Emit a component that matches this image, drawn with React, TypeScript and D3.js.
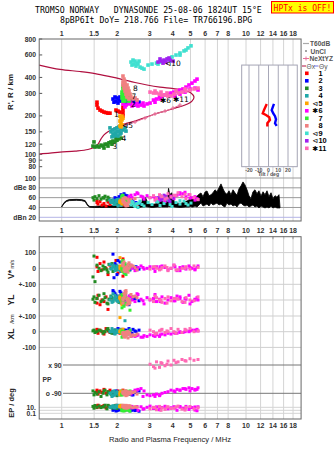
import React from 'react';
import * as d3 from 'd3';

// ---------------- data ----------------
const freqTicks = [1, 1.5, 2, 3, 4, 5, 6, 7, 8, 10, 12, 14, 16, 18];
const freqTickLabels = ['1', '1.5', '2', '3', '4', '5', '6', '7', '8', '10', '12', '14', '16', '18'];
const heightTicks = [800, 600, 400, 300, 200, 150, 120, 100, 90, 80];
const ampTicks = [100, 80, 60, 40, 20];
const ampTickLabels = ['100', 'dBe 80', '60', '40', 'dBn 20'];
const tiltTicks = [-20, -10, 0, 10, 20];

const seriesNames = ['1', '2', '3', '4', '5', '6', '7', '8', '9', '10', '11'];
const seriesMarks = ['', '', '', '', '⊲', '✱', '', '', '⊲', '⊲', '✱'];
const seriesColors = ['#ff0000', '#0000ff', '#228b22', '#20a8a8', '#ffa500', '#ff00ff', '#33ee33', '#f08080', '#40e0d0', '#a020f0', '#ff69b4'];

// model O-trace (freq MHz, height km)
const modelFreq = [0.755, 0.864, 0.979, 1.181, 1.389, 1.516, 1.574, 1.634, 1.696, 1.783, 1.946, 2.205, 2.499, 2.832, 3.208, 3.635, 4.117, 4.667, 5.091, 5.222, 5.03, 4.55, 3.968, 3.416, 2.905, 2.499, 2.15, 1.828, 1.516, 1.257, 0.979, 0.755];
const modelHeight = [100.5, 102, 104, 106, 109, 114, 120, 132, 142, 150, 161, 173, 182, 194, 207, 218, 230, 243, 261, 281, 302, 319, 328, 336, 349, 365, 385, 406, 429, 445, 462, 500];

// NeXtYZ profile
const neFreq = [2.205, 2.499, 2.832, 3.208, 3.635, 4.018, 4.383];
const neHeight = [167, 179, 192, 207, 218, 230, 243];

// tilt inset
const tiltXHeight = [248, 222, 209, 203, 195, 186, 175, 165];
const tiltXVal = [-1.8, -4.6, -5.9, -2.6, 0.8, 1.5, -1.2, -1.2];
const tiltYHeight = [248, 233, 222, 209, 199, 188, 175, 167];
const tiltYVal = [5.6, 4.3, 3.3, 4.9, 6.7, 7.7, 6.7, 8.4];

// amplitude trace (freq, max dB, min dB)
const ampFreq = [1.0, 1.03, 1.06, 1.1, 1.2, 1.28, 1.34, 1.38, 1.42, 1.5, 1.6, 1.8, 2.0, 2.3, 2.6, 2.72, 2.76, 2.8, 2.85, 2.95, 3.1, 3.3, 3.42, 3.46, 3.5, 3.65, 3.76, 3.8, 3.86, 3.95, 4.1, 4.4, 4.7, 4.9, 5.0, 5.1,
  5.158, 5.288, 5.422, 5.559, 5.7, 5.844, 5.992, 6.144, 6.299, 6.459, 6.621, 6.79, 6.961, 7.138, 7.317, 7.503, 7.693, 7.886, 8.086, 8.288, 8.5, 8.715, 8.937, 9.162, 9.395, 9.632, 9.876, 10.13, 10.38, 10.64, 10.91, 11.19, 11.47, 11.76, 12.06, 12.37, 12.68, 13.0, 13.33, 13.67, 14.01, 14.37, 14.73, 15.1, 15.29];
const ampHi = [42, 50, 54, 56, 56.5, 56, 54, 46, 42, 42, 43, 44, 43, 44, 45, 50, 64, 52, 60, 47, 46, 48, 55, 66, 52, 50, 62, 79, 66, 70, 50, 48, 52, 55, 62, 56,
  57, 61, 63, 67, 69.5, 62, 71.5, 73.6, 64, 66, 70, 76, 72, 80, 88, 78, 70, 67, 74, 66, 76, 70, 65, 78, 84, 92, 86, 76, 64, 58, 72, 76, 68, 74, 63, 72, 66, 74, 62, 70, 58, 64, 61, 66, 41];
const ampLo = [41, 48, 52, 54, 54.5, 54, 52, 44, 40.5, 40, 40, 40, 40, 40, 40, 41, 41, 41, 42, 41, 40, 41, 41, 42, 41, 41, 41, 42, 42, 43, 41, 40, 41, 41, 42, 41,
  41, 43, 41, 45, 49, 43, 45, 47, 43, 49, 45, 47, 49, 45, 47, 43, 41, 49, 45, 47, 43, 45, 41, 47, 49, 45, 43, 45, 41, 43, 45, 41, 43, 39, 43, 41, 39, 41, 39, 43, 39, 41, 39, 39, 39];

// echoes: [freq MHz, height km, amp dB, V* m/s, YL km, XL km, PP deg, EP deg]
const echoes1 = [
  [1.554, 256, 50, 70, 10, 5, -70, 30], [1.554, 243, 54, 10, -20, 15, -80, 8], [1.574, 230, 47, -20, 30, -10, -95, 50],
  [1.614, 222, 52, 30, -30, 10, -75, 12], [1.654, 218, 45, -10, 0, 0, -85, 20], [1.696, 214, 48, 40, -10, -15, -65, 40],
  [1.74, 212, 43, 0, 20, 20, -90, 6], [1.783, 210, 51, -40, -60, 5, -80, 25], [1.828, 210, 46, 20, 5, -5, -70, 15],
  [1.97, 222, 55, 50, 15, 0, -85, 45], [2.02, 218, 49, -30, -5, 10, -75, 10], [2.071, 214, 44, 10, 25, -10, -95, 35],
  [2.15, 234, 53, 60, -15, 5, -80, 18], [2.15, 222, 47, -5, 0, 15, -70, 28], [2.15, 210, 50, 15, 10, 0, -90, 9],
  [2.15, 199, 45, -50, -20, -5, -85, 22],
];
const echoes2 = [
  [1.898, 271, 55, 90, 60, -5, -80, 1], [1.946, 281, 60, 30, 40, 10, -95, 2], [1.995, 276, 58, -40, 20, 0, -85, 0.8],
  [2.046, 266, 62, 10, -10, 15, -90, 1.5], [1.922, 256, 52, -60, 50, -10, -100, 3], [1.97, 261, 57, 20, 30, 5, -75, 0.6],
  [2.02, 252, 54, 50, 0, 20, -90, 1.2], [2.098, 261, 66, -20, 45, 0, -85, 2.5], [2.178, 256, 68, 0, 10, 10, -95, 0.9],
  [2.261, 261, 64, 15, -20, -15, -80, 1.8], [2.347, 266, 56, -10, 25, 5, -90, 0.7], [2.437, 261, 52, 5, 5, 15, -100, 2],
  [2.53, 266, 50, 10, 15, 0, -85, 1.1], [2.627, 256, 48, -5, -5, 10, -75, 0.5], [2.205, 271, 65, -30, 35, -5, -90, 2.8],
  [2.318, 252, 58, 20, -30, 20, -95, 1.4], [2.499, 252, 49, 0, 10, 5, -80, 0.8], [2.071, 281, 60, 40, 55, 0, -85, 1.6],
  [2.233, 248, 62, -15, 0, 10, -90, 2.2], [2.407, 271, 54, 10, 20, -10, -100, 1],
];
const echoes3 = [
  [1.478, 116, 60, -55, 5, 5, -75, 20], [1.497, 125, 55, 78, 20, 10, -100, 5], [1.516, 114, 62, -85, -15, -5, -85, 40],
  [1.554, 116, 58, 20, 10, 0, -95, 10], [1.594, 114, 64, 0, 30, 10, -80, 30], [1.634, 118, 57, -15, -10, 5, -110, 8],
  [1.675, 116, 60, 15, 0, -10, -90, 15], [1.718, 120, 63, 5, 15, 0, -70, 50], [1.761, 120, 55, -10, -20, 15, -100, 3],
  [1.805, 123, 58, 25, 5, 5, -85, 25], [1.851, 125, 52, 0, 25, -5, -95, 12], [1.898, 127, 50, -20, -5, 0, -80, 6],
  [1.946, 125, 48, 10, 10, 10, -90, 35], [1.995, 129, 50, -5, 0, 5, -105, 4], [2.046, 132, 47, 5, -15, -5, -85, 18],
  [2.098, 134, 46, 0, 5, 0, -95, 9], [1.783, 116, 61, -25, -25, 20, -80, 45], [1.874, 120, 54, 30, 15, -10, -100, 7],
  [1.97, 134, 49, -10, 10, 5, -90, 22], [1.696, 112, 59, -5, 40, 0, -75, 14],
];
const echoes4 = [
  [1.851, 150, 50, -5, 20, 0, -90, 10], [1.898, 155, 55, 10, -10, 10, -80, 25], [1.946, 158, 48, 0, 30, -10, -100, 6],
  [1.995, 161, 52, 15, 0, 5, -85, 40], [2.046, 164, 57, -10, 15, -5, -95, 15], [2.098, 158, 45, 5, -20, 15, -75, 8],
  [1.898, 144, 53, 20, 40, 0, -105, 30], [1.946, 147, 47, -15, 10, -15, -90, 12], [1.995, 150, 56, 0, -5, 10, -80, 50],
  [2.046, 152, 50, 10, 25, 5, -100, 20], [2.098, 147, 44, -20, 0, 0, -85, 5], [2.15, 155, 49, 5, 35, -10, -95, 35],
  [1.874, 137, 51, 0, -15, 20, -110, 18], [1.922, 139, 46, 15, 5, 5, -75, 9], [1.97, 142, 54, -5, 20, -5, -90, 28],
  [2.02, 139, 43, 10, -10, 0, -85, 14], [2.071, 144, 48, 0, 10, 10, -100, 45], [2.205, 161, 52, -10, 30, 70, -80, 7],
  [2.233, 152, 47, 5, -25, -5, -95, 22], [1.828, 161, 55, 25, 0, 0, -90, 11],
];
const echoes5 = [
  [2.071, 199, 52, 68, 10, 0, -85, 15], [2.098, 192, 55, 5, 0, 5, -95, 30], [2.124, 186, 58, -10, -20, -10, -80, 8],
  [2.071, 182, 50, 0, 15, 90, -100, 20], [2.098, 176, 54, 10, 5, 10, -90, 45], [2.124, 170, 47, -5, -10, -5, -75, 10],
  [2.071, 167, 53, 15, 20, 0, -95, 25], [2.15, 192, 56, -20, 0, 15, -85, 12], [2.124, 199, 49, 5, -30, -10, -90, 35],
  [2.098, 164, 51, 0, 10, 5, -80, 18],
];
const echoes6 = [
  [2.15, 248, 58, 5, 10, -15, -90, 5], [2.233, 243, 55, -10, -20, -20, -85, 12], [2.318, 248, 62, 10, 25, -10, -95, 2],
  [2.407, 239, 60, 0, 0, -25, -80, 20], [2.499, 243, 66, -15, -10, -30, -70, 8], [2.594, 239, 68, 5, 35, -20, -65, 1],
  [2.694, 243, 63, 15, 5, -35, -60, 15], [2.797, 239, 57, -5, -25, -25, -75, 3], [2.905, 248, 64, 0, 15, -30, -100, 10],
  [3.016, 252, 60, 10, 0, -20, -105, 25], [2.205, 235, 52, -20, -15, -15, -90, 0.8], [2.377, 252, 65, 20, 20, -30, -95, 6],
  [2.562, 252, 70, -10, 40, -25, -70, 18], [2.762, 252, 61, 5, -5, -35, -110, 2.5], [3.149, 266, 62, 0, 10, -25, -100, 4],
  [3.269, 271, 58, 10, -10, -20, -95, 14], [3.394, 281, 55, -5, 5, -30, -105, 1.5], [3.501, 286, 60, 15, 20, -15, -90, 9],
  [3.635, 291, 52, 5, -20, -20, -85, 22], [3.773, 296, 56, -10, 0, -10, -80, 3], [3.918, 302, 63, 0, 15, -15, -70, 7],
  [4.066, 307, 58, 20, -5, -5, -75, 16], [4.223, 313, 65, -15, 25, -10, -65, 1], [4.383, 319, 70, 5, 10, 0, -70, 11],
  [4.55, 325, 68, 10, -15, -5, -60, 5], [4.724, 336, 62, -5, 5, 5, -65, 20], [4.904, 349, 66, 15, 30, 0, -55, 2],
  [5.091, 361, 60, 0, -10, 10, -60, 8], [5.286, 375, 55, -10, 0, 5, -70, 13], [5.422, 388, 58, 5, 15, 15, -65, 0.7],
  [4.117, 286, 64, 10, -5, -10, -80, 6], [4.383, 296, 67, -15, 20, -5, -70, 18], [4.667, 307, 71, 0, 10, 0, -60, 3],
  [4.967, 325, 59, 5, -25, 5, -75, 10], [5.286, 330, 62, -5, 5, 10, -65, 1.2], [5.49, 319, 56, 15, 0, 5, -55, 15],
  [3.208, 256, 60, -20, 35, -30, -110, 4], [3.416, 271, 57, 10, -10, -20, -100, 9],
];
const echoes7 = [
  [2.15, 342, 60, 50, 20, -10, -85, 1.5], [2.15, 325, 65, -10, -10, -20, -95, 0.8], [2.205, 325, 55, 20, 40, 0, -80, 2.5],
  [2.124, 307, 62, 0, 0, -5, -100, 1], [2.178, 307, 58, -30, -30, -30, -90, 0.6], [2.233, 307, 52, 10, 10, -15, -75, 2],
  [2.124, 291, 64, 40, -50, 5, -95, 1.2], [2.178, 291, 57, -20, 25, -25, -85, 0.9], [2.233, 291, 50, 5, -20, -10, -90, 3],
  [2.29, 291, 55, 15, 5, 0, -80, 1.4], [2.124, 276, 60, -5, 35, -35, -100, 0.7], [2.178, 276, 53, 25, -40, -20, -85, 1.8],
  [2.233, 276, 48, -40, 15, -5, -95, 1.1], [2.29, 276, 56, 0, -5, -15, -90, 2.2], [2.347, 276, 51, 10, -65, 10, -75, 0.5],
  [2.205, 261, 59, 30, 10, -30, -85, 1.6], [2.318, 261, 54, -15, 0, -10, -95, 0.9], [2.15, 261, 62, 5, 30, -5, -80, 1.3],
];
const echoes8 = [
  [2.15, 410, 55, 20, 10, -15, -85, 20], [2.178, 388, 50, -10, 40, -25, -95, 8], [2.15, 368, 58, 30, -20, -5, -80, 35],
  [2.205, 368, 45, 0, 55, -35, -100, 12], [2.15, 349, 52, 15, 0, -10, -90, 50], [2.205, 349, 60, -20, 25, -20, -75, 6],
  [2.261, 349, 48, 10, -30, 0, -95, 25], [2.178, 330, 54, 40, 15, -30, -85, 15], [2.233, 330, 43, -5, 60, -15, -105, 40],
  [2.29, 330, 57, 25, -10, -40, -80, 10], [2.205, 313, 50, 0, 30, -5, -90, 30], [2.261, 313, 46, -15, 5, -20, -100, 5],
  [2.318, 313, 53, 35, -25, -10, -85, 18], [2.233, 296, 59, 5, 45, -25, -75, 45], [2.29, 296, 44, -25, 10, 0, -95, 9],
  [2.347, 296, 51, 10, -15, -15, -90, 28], [2.377, 281, 56, 20, 35, -30, -80, 14], [2.261, 281, 47, -5, 0, -10, -100, 22],
  [2.437, 271, 49, 15, 20, -20, -85, 7], [2.318, 271, 52, 0, -5, -5, -90, 33], [2.562, 266, 45, -10, 15, -15, -95, 11],
  [2.499, 276, 58, 5, 25, -25, -80, 16],
];
const echoes9 = [
  [2.377, 528, 45], [2.437, 547, 50], [2.499, 537, 42], [2.562, 518, 48], [2.407, 500, 52], [2.468, 509, 44],
  [2.53, 491, 47], [2.594, 509, 40], [2.66, 482, 53], [2.727, 473, 46], [2.797, 465, 43], [2.627, 537, 49],
  [2.941, 500, 50], [3.09, 509, 46], [3.269, 518, 52], [3.416, 528, 44], [3.591, 537, 48], [3.773, 558, 55],
  [3.968, 579, 42], [4.171, 599, 50], [4.383, 621, 47], [4.609, 645, 53], [4.845, 681, 45], [5.03, 707, 49],
  [3.331, 509, 51], [3.87, 547, 46], [4.383, 599, 54], [4.724, 656, 48],
];
const echoes10 = [
  [3.331, 528, 60], [3.458, 537, 55], [3.591, 547, 65], [3.727, 558, 58], [3.87, 547, 52],
  [3.416, 558, 62], [3.546, 518, 57], [3.681, 528, 63], [3.822, 568, 54], [4.018, 537, 59],
];
const echoes11 = [
  [3.016, 307, 60, -5, 5, 10, 95, 3], [3.149, 302, 64, 10, -10, 0, 80, 10], [3.269, 302, 58, 0, 15, -10, 110, 1.5],
  [3.394, 296, 66, -10, 0, 5, 75, 20], [3.501, 291, 62, 5, -15, 15, 100, 6], [3.635, 291, 57, 15, 10, -5, 85, 2],
  [3.773, 286, 68, -15, 20, 0, 115, 15], [3.918, 286, 61, 0, -5, 20, 90, 4], [3.208, 313, 55, 10, 25, -15, 70, 8],
  [3.458, 307, 63, -5, 0, 10, 105, 1], [3.727, 302, 59, 5, -20, 5, 95, 12], [4.066, 296, 65, 20, 10, 0, 120, 5],
  [4.279, 302, 70, -10, 5, 15, 110, 25], [4.495, 307, 62, 0, -10, -5, 125, 2.5], [4.724, 313, 58, 10, 15, 10, 115, 9],
  [4.967, 319, 66, -5, 0, 20, 130, 18], [5.222, 325, 60, 15, -5, 0, 120, 3], [5.49, 330, 56, 5, 20, 5, 125, 7],
  [4.171, 313, 64, -10, 10, -10, 105, 14], [4.667, 325, 67, 0, -15, 15, 118, 1.2],
];
const allEchoes = [echoes1, echoes2, echoes3, echoes4, echoes5, echoes6, echoes7, echoes8, echoes9, echoes10, echoes11];

// trace annotations
const annoText = ['1', '2', '3', '4', '⊲5', '8', '7', '✱6', '⊲10', '✱11'];
const annoFreq = [1.922, 2.377, 1.886, 2.111, 2.124, 2.437, 2.391, 3.416, 3.635, 4.018];
const annoHeight = [196, 234, 110, 128, 162, 312, 271, 252, 491, 256];

export default function App() {
  const fx = d3.scaleLog().domain([1, 10]).range([61.7, 246]);
  const xL = fx(0.755), xR = fx(19.9);
  const yH = d3.scaleLog().domain([100, 800]).range([154.3, 39]);
  const yA = d3.scaleLinear().domain([20, 100]).range([217.3, 178]);
  const yV = d3.scaleLinear().domain([-100, 100]).range([284, 252.6]);
  const yYL = d3.scaleLinear().domain([-100, 100]).range([315.7, 284.3]);
  const yXL = d3.scaleLinear().domain([-100, 100]).range([347.4, 316]);
  const yPP = d3.scaleLinear().domain([-90, 90]).range([393.3, 365]);
  const yEP = d3.scaleLog().domain([0.1, 10]).range([413.3, 407.3]);
  const tx = d3.scaleLinear().domain([-20, 20]).range([249, 288]);

  const topY0 = 39, topY1 = 221, lowY0 = 236.7, lowY1 = 419;
  const sans = 'Liberation Sans, Arial, sans-serif';
  const mono = 'DejaVu Sans Mono, monospace';

  const modelLine = d3.line<number>().x((d, i) => fx(modelFreq[i])).y((d, i) => yH(modelHeight[i])).curve(d3.curveCatmullRom.alpha(0.5));
  const neLine = d3.line<number>().x((d, i) => fx(neFreq[i])).y((d, i) => yH(neHeight[i]));
  const tiltXLine = d3.line<number>().x((d, i) => tx(tiltXVal[i])).y((d, i) => yH(tiltXHeight[i]));
  const tiltYLine = d3.line<number>().x((d, i) => tx(tiltYVal[i])).y((d, i) => yH(tiltYHeight[i]));
  const ampArea = d3.area<number>().x((d, i) => fx(ampFreq[i])).y0((d, i) => yA(ampLo[i])).y1((d, i) => yA(ampHi[i]));

  const lowerRows: { s: any; k: number }[] = [
    { s: yV, k: 3 }, { s: yYL, k: 4 }, { s: yXL, k: 5 }, { s: yPP, k: 6 }, { s: yEP, k: 7 },
  ];

  const legendY0 = 73.3, legendDy = 7.5;
  const mS = 3.6, lS = 3, aS = 3;

  return (
    <svg width={335} height={451} style={{ position: 'absolute', left: 0, top: 0, background: '#fff' }} fontFamily={sans}>
      <rect x={0} y={0} width={335} height={451} fill="#fff" />
      {/* titles */}
      <text x={35} y={12.5} fontFamily={mono} fontSize={8.2} style={{ whiteSpace: 'pre' }}>{'TROMSO NORWAY   DYNASONDE 25-08-06 1824UT 15°E'}</text>
      <text x={60} y={22.5} fontFamily={mono} fontSize={8.2} style={{ whiteSpace: 'pre' }}>{'8pBP6It DoY= 218.766 File= TR766196.BPG'}</text>
      <rect x={271.5} y={1.5} width={62} height={11.5} fill="#ffff00" stroke="#ff0000" strokeWidth={1} />
      <text x={302.5} y={10.7} textAnchor="middle" fontFamily={mono} fontSize={8} fill="#ff0000">HPTx is OFF!</text>

      {/* upper frame grid */}
      {freqTicks.map((f, i) => (
        <line key={'gu' + i} x1={fx(f)} x2={fx(f)} y1={topY0} y2={topY1} stroke="#d4d4d4" strokeWidth={1} />
      ))}
      {freqTicks.map((f, i) => (
        <text key={'tt' + i} x={fx(f)} y={35.5} textAnchor="middle" fontSize={7} fontWeight="bold" fill="#333">{freqTickLabels[i]}</text>
      ))}
      {heightTicks.map((h, i) => (
        <g key={'ht' + i}>
          <line x1={xL} x2={xL + 3} y1={yH(h)} y2={yH(h)} stroke="#555" />
          <text x={36} y={yH(h) + 2.5} textAnchor="end" fontSize={6.8} fontWeight="bold" fill="#333">{h}</text>
        </g>
      ))}
      <text transform={`translate(13,${92}) rotate(-90)`} textAnchor="middle" fontSize={8} fontWeight="bold" fill="#222">R', R / km</text>

      {/* amplitude panel */}
      {ampTicks.map((a, i) => (
        <g key={'at' + i}>
          <line x1={xL} x2={xR} y1={yA(a)} y2={yA(a)} stroke={a === 20 ? '#b4b4e6' : '#9a9a9a'} strokeWidth={1} />
          <text x={36} y={yA(a) + 2.5} textAnchor="end" fontSize={6.8} fontWeight="bold" fill="#333">{ampTickLabels[i]}</text>
        </g>
      ))}
      <path d={ampArea(ampFreq) || ''} fill="#000" stroke="#000" strokeWidth={0.8} />
      {allEchoes.map((arr, si) => arr.map((e, i) => (
        <rect key={`a${si}-${i}`} x={fx(e[0]) - aS / 2} y={yA(e[2]) - aS / 2} width={aS} height={aS} fill={seriesColors[si]} />
      )))}

      {/* model curves */}
      <path d={modelLine(modelFreq) || ''} fill="none" stroke="#b01040" strokeWidth={1.2} />
      <path d={neLine(neFreq) || ''} fill="none" stroke="#e8709a" strokeWidth={1} />
      {neFreq.map((f, i) => (
        <path key={'ne' + i} d={`M${fx(f) - 2},${yH(neHeight[i])}h4M${fx(f)},${yH(neHeight[i]) - 2}v4`} stroke="#e8709a" strokeWidth={1} />
      ))}

      {/* echoes main */}
      {allEchoes.map((arr, si) => arr.map((e, i) => (
        <rect key={`m${si}-${i}`} x={fx(e[0]) - mS / 2} y={yH(e[1]) - mS / 2} width={mS} height={mS} fill={seriesColors[si]} />
      )))}
      {annoText.map((t, i) => (
        <text key={'an' + i} x={fx(annoFreq[i])} y={yH(annoHeight[i])} fontSize={7.5} fill="#000" fontFamily="DejaVu Sans, sans-serif">{t}</text>
      ))}

      {/* tilt inset */}
      <rect x={tx(-27.5)} y={yH(500)} width={tx(29.5) - tx(-27.5)} height={yH(80) - yH(500)} fill="#fff" stroke="#a4a4b4" strokeWidth={1} />
      {tiltTicks.map((t, i) => (
        <g key={'tk' + i}>
          <line x1={tx(t)} x2={tx(t)} y1={yH(500)} y2={yH(80)} stroke="#a8a8b8" strokeWidth={1} />
          <text x={tx(t)} y={171.5} textAnchor="middle" fontSize={5.2} fontWeight="bold" fill="#555">{t}</text>
        </g>
      ))}
      <text x={tx(0)} y={176.3} textAnchor="middle" fontSize={5.2} fontWeight="bold" fill="#555">Tilt / deg</text>
      <path d={tiltXLine(tiltXVal) || ''} fill="none" stroke="#ff0000" strokeWidth={2.4} />
      <path d={tiltYLine(tiltYVal) || ''} fill="none" stroke="#0000ff" strokeWidth={2.4} />

      {/* upper frame border */}
      <rect x={xL} y={topY0} width={xR - xL} height={topY1 - topY0} fill="none" stroke="#666" strokeWidth={1} />

      {/* middle freq labels */}
      {freqTicks.map((f, i) => (
        <g key={'tm' + i}>
          <text x={fx(f)} y={232.5} textAnchor="middle" fontSize={7} fontWeight="bold" fill="#333">{freqTickLabels[i]}</text>
          <line x1={fx(f)} x2={fx(f)} y1={lowY0} y2={lowY0 + 2.5} stroke="#555" />
        </g>
      ))}

      {/* lower frame grid */}
      {freqTicks.map((f, i) => (
        <line key={'gl' + i} x1={fx(f)} x2={fx(f)} y1={lowY0} y2={lowY1} stroke="#d4d4d4" strokeWidth={1} />
      ))}
      {[yV(100), yV(0), yYL(100), yYL(0), yXL(100), yXL(0), yXL(-100)].map((y, i) => (
        <line key={'hl' + i} x1={xL} x2={xR} y1={y} y2={y} stroke="#cfcfcf" strokeWidth={1} />
      ))}
      {[yEP(10), yEP(1), yEP(0.1)].map((y, i) => (
        <line key={'ep' + i} x1={xL} x2={xR} y1={y} y2={y} stroke="#d4d4d4" strokeWidth={1} />
      ))}
      {[yPP(90), yPP(-90)].map((y, i) => (
        <line key={'pp' + i} x1={63} x2={xR} y1={y} y2={y} stroke="#777" strokeWidth={1} />
      ))}
      {[
        { y: yV(100), t: '100' }, { y: yV(0), t: '0' }, { y: yYL(100), t: '+-100' }, { y: yYL(0), t: '0' },
        { y: yXL(100), t: '+-100' }, { y: yXL(0), t: '0' }, { y: yXL(-100), t: '-100' },
        { y: yEP(10), t: '10.' }, { y: yEP(0.1), t: '0.1' },
      ].map((d, i) => (
        <text key={'ll' + i} x={36} y={d.y + 2.5} textAnchor="end" fontSize={6.8} fontWeight="bold" fill="#333">{d.t}</text>
      ))}
      <text x={61.5} y={yPP(90) + 2.5} textAnchor="end" fontSize={6.8} fontWeight="bold" fill="#333">x 90</text>
      <text x={42.5} y={381.8} fontSize={6.8} fontWeight="bold" fill="#333">PP</text>
      <text x={61.5} y={yPP(-90) + 2.5} textAnchor="end" fontSize={6.8} fontWeight="bold" fill="#333">o -90</text>

      <text transform="translate(14,279) rotate(-90)" fill="#222">
        <tspan fontSize={8.5} fontWeight="bold">V*</tspan>
        <tspan fontSize={5.5} dx={1.5}>m/s</tspan>
      </text>
      <text transform="translate(14,300) rotate(-90)" textAnchor="middle" fontSize={8.5} fontWeight="bold" fill="#222">YL</text>
      <text transform="translate(14,319) rotate(-90)" textAnchor="middle" fontSize={6} fill="#222">/km</text>
      <text transform="translate(14,334) rotate(-90)" textAnchor="middle" fontSize={8.5} fontWeight="bold" fill="#222">XL</text>
      <text transform="translate(14,403) rotate(-90)" textAnchor="middle" fontSize={7.5} fontWeight="bold" fill="#222">EP / deg</text>

      {/* lower echoes */}
      {allEchoes.map((arr, si) => arr.filter((e) => e.length >= 8).map((e, i) => (
        <g key={`l${si}-${i}`}>
          {lowerRows.map((r, j) => (
            <rect key={j} x={fx(e[0]) - lS / 2} y={r.s(e[r.k]) - lS / 2} width={lS} height={lS} fill={seriesColors[si]} />
          ))}
        </g>
      )))}

      <rect x={xL} y={lowY0} width={xR - xL} height={lowY1 - lowY0} fill="none" stroke="#666" strokeWidth={1} />

      {/* bottom axis */}
      {freqTicks.map((f, i) => (
        <text key={'tb' + i} x={fx(f)} y={428} textAnchor="middle" fontSize={7} fontWeight="bold" fill="#333">{freqTickLabels[i]}</text>
      ))}
      <text x={170} y={442} textAnchor="middle" fontSize={7.6} fill="#222">Radio and Plasma Frequency / MHz</text>

      {/* legend */}
      <line x1={303} x2={309} y1={43.5} y2={43.5} stroke="#aaa" strokeWidth={1.2} />
      <text x={310} y={46} fontSize={6.6} fontWeight="bold" fill="#555">T60dB</text>
      <circle cx={306} cy={51} r={0.7} fill="#000" />
      <text x={310.5} y={53.5} fontSize={6.6} fontWeight="bold" fill="#555">UnCl</text>
      <line x1={303} x2={309} y1={58.5} y2={58.5} stroke="#e8709a" strokeWidth={1} />
      <path d="M306,56.5v4" stroke="#e8709a" strokeWidth={1} />
      <text x={309.5} y={61} fontSize={6.6} fontWeight="bold" fill="#555">NeXtYZ</text>
      <line x1={302} x2={306} y1={66} y2={66} stroke="#b01040" strokeWidth={1} />
      <text x={306.5} y={68.5} fontSize={6.6} fill="#555">Θx</text>
      <line x1={314} x2={318.5} y1={66} y2={66} stroke="#7070e0" strokeWidth={1} />
      <text x={319} y={68.5} fontSize={6.6} fill="#555">Θy</text>
      {seriesNames.map((n, i) => (
        <g key={'lg' + i}>
          <rect x={305} y={legendY0 + i * legendDy - 1.8} width={3.6} height={3.6} fill={seriesColors[i]} />
          {seriesMarks[i] && (
            <text x={318} y={legendY0 + i * legendDy + 2.6} textAnchor="end" fontSize={7} fill="#000" fontFamily="DejaVu Sans, sans-serif">{seriesMarks[i]}</text>
          )}
          <text x={318.5} y={legendY0 + i * legendDy + 2.6} fontSize={7.4} fontWeight="bold" fill="#000">{n}</text>
        </g>
      ))}
    </svg>
  );
}
